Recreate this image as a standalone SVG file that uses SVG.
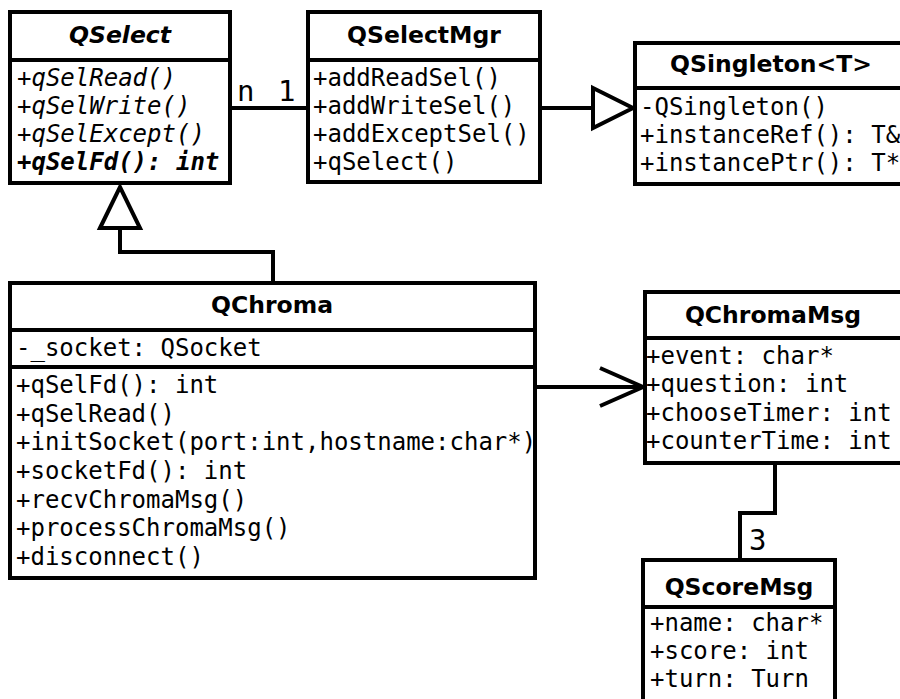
<svg xmlns="http://www.w3.org/2000/svg" width="900" height="699" viewBox="0 0 900 699">
<style>
.box{fill:#fff;stroke:#000;stroke-width:4}
.sep{stroke:#000;stroke-width:4}
.t{font-family:"DejaVu Sans","Liberation Sans",sans-serif;font-weight:bold;font-size:23.5px;text-anchor:middle;fill:#000}
.m{font-family:"DejaVu Sans Mono","Liberation Mono",monospace;font-size:24px;fill:#000}
.lbl{font-family:"DejaVu Sans Mono","Liberation Mono",monospace;font-size:29px;fill:#000}
.it{font-style:italic}
.b{font-weight:bold}
.c{fill:none;stroke:#000;stroke-width:4}
.tri{fill:#fff;stroke:#000;stroke-width:4}
</style>
<g id="connectors">
<line class="c" x1="230" y1="108" x2="308" y2="108"/>
<text class="lbl" x="237" y="101">n</text>
<text class="lbl" x="278" y="101">1</text>
<line class="c" x1="540" y1="108" x2="593" y2="108"/>
<polygon class="tri" points="593,88 633,108 593,128"/>
<polyline class="c" points="273,283 273,252 120,252 120,228"/>
<polygon class="tri" points="100,228 120,187 140,228"/>
<line class="c" x1="535" y1="387" x2="643" y2="387"/>
<polyline class="c" points="600,368 643,387 600,406"/>
<polyline class="c" points="775,463 775,513 740,513 740,560"/>
<text class="lbl" x="749" y="550">3</text>
</g>
<g id="QSelect">
<rect class="box" x="10" y="12" width="220" height="171"/>
<line class="sep" x1="10" y1="60" x2="230" y2="60"/>
<text class="t it" x="120" y="43">QSelect</text>
<text class="m it" x="17" y="86">+qSelRead()</text>
<text class="m it" x="17" y="114">+qSelWrite()</text>
<text class="m it" x="17" y="142">+qSelExcept()</text>
<text class="m it b" x="17" y="170">+qSelFd(): int</text>
</g>
<g id="QSelectMgr">
<rect class="box" x="308" y="12" width="232" height="170"/>
<line class="sep" x1="308" y1="60" x2="540" y2="60"/>
<text class="t" x="424" y="43">QSelectMgr</text>
<text class="m" x="313" y="86">+addReadSel()</text>
<text class="m" x="313" y="114">+addWriteSel()</text>
<text class="m" x="313" y="142">+addExceptSel()</text>
<text class="m" x="313" y="170">+qSelect()</text>
</g>
<g id="QSingleton">
<rect class="box" x="635" y="43" width="272" height="141"/>
<line class="sep" x1="635" y1="88" x2="907" y2="88"/>
<text class="t" x="771" y="72">QSingleton&lt;T&gt;</text>
<text class="m" x="640" y="115">-QSingleton()</text>
<text class="m" x="640" y="143">+instanceRef(): T&amp;</text>
<text class="m" x="640" y="171">+instancePtr(): T*</text>
</g>
<g id="QChroma">
<rect class="box" x="10" y="283" width="525" height="295"/>
<line class="sep" x1="10" y1="330" x2="535" y2="330"/>
<line class="sep" x1="10" y1="367" x2="535" y2="367"/>
<text class="t" x="272" y="313">QChroma</text>
<text class="m" x="16" y="356">-_socket: QSocket</text>
<text class="m" x="16" y="393">+qSelFd(): int</text>
<text class="m" x="16" y="422">+qSelRead()</text>
<text class="m" x="16" y="450">+initSocket(port:int,hostname:char*)</text>
<text class="m" x="16" y="479">+socketFd(): int</text>
<text class="m" x="16" y="508">+recvChromaMsg()</text>
<text class="m" x="16" y="536">+processChromaMsg()</text>
<text class="m" x="16" y="565">+disconnect()</text>
</g>
<g id="QChromaMsg">
<rect class="box" x="645" y="292" width="257" height="171"/>
<line class="sep" x1="645" y1="338" x2="902" y2="338"/>
<text class="t" x="773" y="323">QChromaMsg</text>
<text class="m" x="646" y="364">+event: char*</text>
<text class="m" x="646" y="392">+question: int</text>
<text class="m" x="646" y="421">+chooseTimer: int</text>
<text class="m" x="646" y="449">+counterTime: int</text>
</g>
<g id="QScoreMsg">
<rect class="box" x="643" y="560" width="192" height="160"/>
<line class="sep" x1="643" y1="607" x2="835" y2="607"/>
<text class="t" x="739" y="595">QScoreMsg</text>
<text class="m" x="650" y="631">+name: char*</text>
<text class="m" x="650" y="659">+score: int</text>
<text class="m" x="650" y="687">+turn: Turn</text>
</g>
</svg>
